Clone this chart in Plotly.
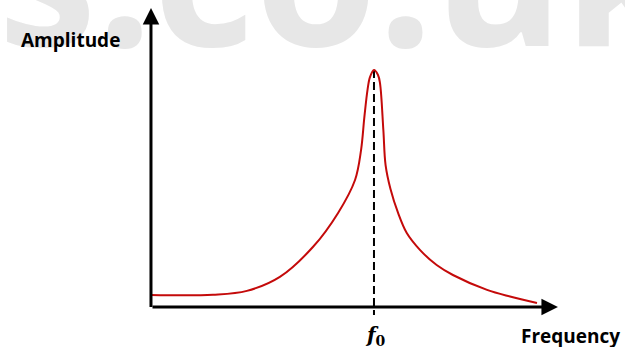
import plotly.graph_objects as go

# Resonance curve (frequency in units of f0, amplitude relative to peak)
freq = [0.000, 0.278, 0.430, 0.578, 0.726, 0.839, 0.915, 0.942, 0.957, 0.971,
        0.982, 1.000, 1.018, 1.027, 1.042, 1.052, 1.074, 1.108, 1.147, 1.206, 1.281,
        1.354, 1.507, 1.610, 1.731]
amplitude = [0.051, 0.052, 0.068, 0.127, 0.253, 0.397, 0.536, 0.662, 0.802, 0.916,
             0.970, 1.000, 0.979, 0.945, 0.747, 0.599, 0.498, 0.397, 0.312, 0.241, 0.177,
             0.135, 0.072, 0.044, 0.017]
f0 = 1.0
peak_amp = 1.0
x_axis_end = 1.825
y_axis_end = 1.262

fig = go.Figure()
fig.add_trace(go.Scatter(x=freq, y=amplitude, mode="lines",
                         line=dict(color="#c40a0a", width=2, shape="spline", smoothing=1.0),
                         hoverinfo="skip", showlegend=False))

# watermark
fig.add_annotation(text="s.co.uk", xref="paper", yref="paper", x=-0.006, y=1.09,
                   xanchor="left", yanchor="middle", showarrow=False,
                   font=dict(family="Open Sans", size=198, color="#e7e7e7", weight="bold"))

# dashed line at f0
fig.add_shape(type="line", x0=f0, x1=f0, y0=peak_amp, y1=-0.034, xref="x", yref="y",
              line=dict(color="black", width=2, dash="8px,4px"), layer="below")

# axes with arrows
fig.add_annotation(x=x_axis_end, y=0, ax=0, ay=0, xref="x", yref="y", axref="x", ayref="y",
                   showarrow=True, arrowhead=2, arrowwidth=3, arrowsize=1.1, arrowcolor="black", text="")
fig.add_annotation(x=0, y=y_axis_end, ax=0, ay=-0.006, xref="x", yref="y", axref="x", ayref="y",
                   showarrow=True, arrowhead=2, arrowwidth=3, arrowsize=1.1, arrowcolor="black", text="")

fig.add_annotation(text="<b>Amplitude</b>", x=-0.359, y=1.127, xref="x", yref="y",
                   showarrow=False, font=dict(family="Open Sans", size=19, color="black"))
fig.add_annotation(text="<b>Frequency</b>", x=1.879, y=-0.122, xref="x", yref="y",
                   showarrow=False, font=dict(family="Open Sans", size=19, color="black"))
fig.add_annotation(text="<b><i>f</i></b><sub><b>0</b></sub>", x=1.005, y=-0.122, xref="x", yref="y",
                   showarrow=False, font=dict(family="DejaVu Serif", size=20, color="black"))

fig.update_layout(width=625, height=347, margin=dict(l=0, r=0, t=0, b=0),
                  paper_bgcolor="white", plot_bgcolor="white",
                  xaxis=dict(range=[-0.677, 2.1256], visible=False, fixedrange=True),
                  yaxis=dict(range=[-0.1688, 1.2954], visible=False, fixedrange=True))

fig.write_html("out.html", config={"displayModeBar": False},
               post_script="document.body.style.margin='0';document.body.style.overflow='hidden';")
